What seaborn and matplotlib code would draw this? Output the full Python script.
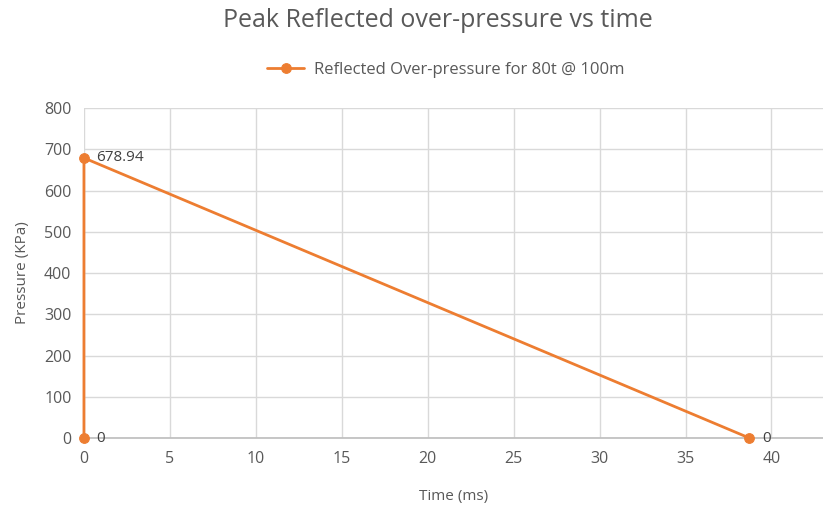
import matplotlib
matplotlib.use("Agg")
import matplotlib.pyplot as plt
import seaborn as sns
import pandas as pd

time_ms = [0, 0, 38.72]
pressure_kpa = [0, 678.94, 0]
point_labels = ["0", "678.94", "0"]
series_name = "Reflected Over-pressure for 80t @ 100m"
x_ticks = [0, 5, 10, 15, 20, 25, 30, 35, 40]
y_ticks = [0, 100, 200, 300, 400, 500, 600, 700, 800]

sns.set_theme(style="white")
plt.rcParams['font.family'] = ['Open Sans', 'DejaVu Sans']

df = pd.DataFrame({"Time (ms)": time_ms, "Pressure (KPa)": pressure_kpa})

orange = "#ED7D31"
grey = "#595959"

fig = plt.figure(figsize=(8.23, 5.07), dpi=100)
ax = fig.add_axes([0.102, 0.136, 0.898, 0.651])

sns.lineplot(data=df, x="Time (ms)", y="Pressure (KPa)", sort=False,
             estimator=None, color=orange, linewidth=2, marker="o",
             markersize=7, markeredgecolor=orange, label=series_name,
             ax=ax, clip_on=False, zorder=5)

for x, y, t in zip(time_ms, pressure_kpa, point_labels):
    ax.annotate(t, (x, y), xytext=(9, 0), textcoords="offset points",
                va="center", ha="left", fontsize=11, color="#404040")

ax.set_xlim(0, 43)
ax.set_ylim(0, 800)
ax.set_xticks(x_ticks)
ax.set_yticks(y_ticks)
ax.grid(True, color="#D9D9D9", linewidth=1)
for s in ["top", "right", "left"]:
    ax.spines[s].set_visible(False)
ax.spines["bottom"].set_color("#BFBFBF")
ax.tick_params(axis="both", length=0, labelsize=11.5, labelcolor=grey, pad=9)
ax.set_xlabel("Time (ms)", fontsize=11, color=grey, labelpad=16)
ax.set_ylabel("Pressure (KPa)", fontsize=11, color=grey, labelpad=10)

leg = ax.legend(loc="center", bbox_to_anchor=(0.49, 1.115), frameon=False,
                fontsize=12, handlelength=2.2, handletextpad=0.6)
for t in leg.get_texts():
    t.set_color(grey)

fig.text(0.532, 0.96, "Peak Reflected over-pressure vs time", ha="center",
         va="center", fontsize=18, color=grey)

fig.savefig("out.png", dpi=100)
